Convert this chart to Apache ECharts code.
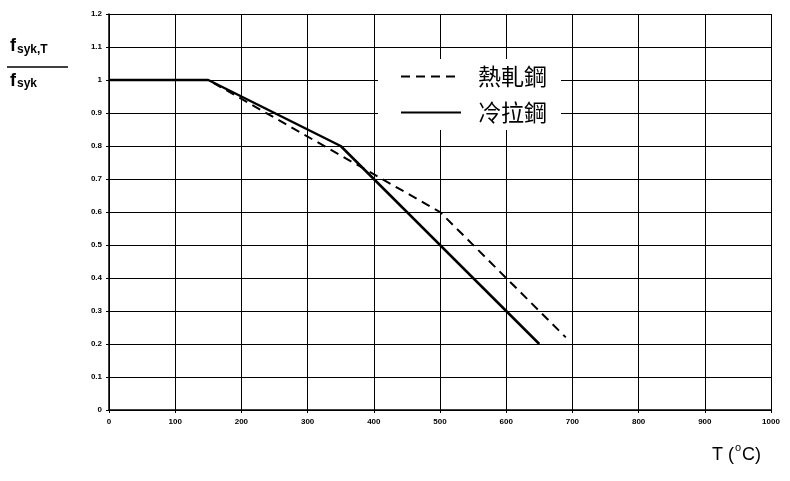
<!DOCTYPE html>
<html>
<head>
<meta charset="utf-8">
<script src="https://cdn.jsdelivr.net/npm/echarts@6/dist/echarts.min.js"></script>
<style>
html,body{margin:0;padding:0;background:#fff;}
#chart{width:790px;height:481px;}
</style>
</head>
<body>
<div id="chart"></div>
<script>
const seriesNames = ['熱軋鋼', '冷拉鋼'];
const hotTemps = [0, 150, 500, 690];
const hotValues = [1, 1, 0.6, 0.22];
const coldTemps = [0, 150, 350, 650];
const coldValues = [1, 1, 0.8, 0.2];

function pairs(xs, ys) { return xs.map((x, i) => [x, ys[i]]); }

const chart = echarts.init(document.getElementById('chart'), null, {renderer: 'canvas'});
const labelFont = {color: '#000', fontSize: 8, fontWeight: 'bold', fontFamily: 'Liberation Sans'};
chart.setOption({
  animation: false,
  backgroundColor: '#fff',
  grid: {left: 109, right: 19, top: 14, bottom: 71, containLabel: false},
  xAxis: {
    type: 'value', min: 0, max: 1000, interval: 100,
    axisLine: {lineStyle: {color: '#000', width: 1.5}},
    axisTick: {show: true, length: 3, lineStyle: {color: '#000'}},
    axisLabel: Object.assign({margin: 8, formatter: v => String(v)}, labelFont),
    splitLine: {show: true, lineStyle: {color: '#000', width: 1}}
  },
  yAxis: {
    type: 'value', min: 0, max: 1.2, interval: 0.1,
    axisLine: {show: true, lineStyle: {color: '#000', width: 1.5}},
    axisTick: {show: true, length: 3, lineStyle: {color: '#000'}},
    axisLabel: Object.assign({margin: 7}, labelFont),
    splitLine: {show: true, lineStyle: {color: '#000', width: 1}}
  },
  legend: {
    orient: 'vertical',
    left: 378, top: 59,
    padding: [6, 14, 6, 22],
    backgroundColor: '#fff',
    itemWidth: 60, itemHeight: 14, itemGap: 13,
    itemStyle: {opacity: 0},
    data: seriesNames,
    textStyle: {color: '#000', fontSize: 23, fontFamily: 'Noto Sans CJK TC', padding: [0, 0, 0, 12]}
  },
  series: [
    {
      name: seriesNames[0], type: 'line', symbol: 'none', z: 3,
      itemStyle: {color: '#000'},
      lineStyle: {color: '#000', width: 2, type: [9, 6]},
      data: pairs(hotTemps, hotValues)
    },
    {
      name: seriesNames[1], type: 'line', symbol: 'none', z: 4,
      itemStyle: {color: '#000'},
      lineStyle: {color: '#000', width: 2.5, type: 'solid'},
      data: pairs(coldTemps, coldValues)
    }
  ],
  graphic: [
    {type: 'text', left: 10, top: 37, style: {text: 'f', font: 'bold 18px Liberation Sans', fill: '#000'}},
    {type: 'text', left: 17, top: 44, style: {text: 'syk,T', font: 'bold 12px Liberation Sans', fill: '#000'}},
    {type: 'line', shape: {x1: 7, y1: 67, x2: 68, y2: 67}, style: {stroke: '#000', lineWidth: 1.5}},
    {type: 'text', left: 10, top: 72, style: {text: 'f', font: 'bold 18px Liberation Sans', fill: '#000'}},
    {type: 'text', left: 17, top: 78, style: {text: 'syk', font: 'bold 12px Liberation Sans', fill: '#000'}},
    {type: 'text', left: 712, top: 446, style: {text: 'T (', font: '18px Liberation Sans', fill: '#000'}},
    {type: 'text', left: 735, top: 442, style: {text: 'o', font: '11px Liberation Sans', fill: '#000'}},
    {type: 'text', left: 742, top: 446, style: {text: 'C)', font: '18px Liberation Sans', fill: '#000'}}
  ]
});
</script>
</body>
</html>
